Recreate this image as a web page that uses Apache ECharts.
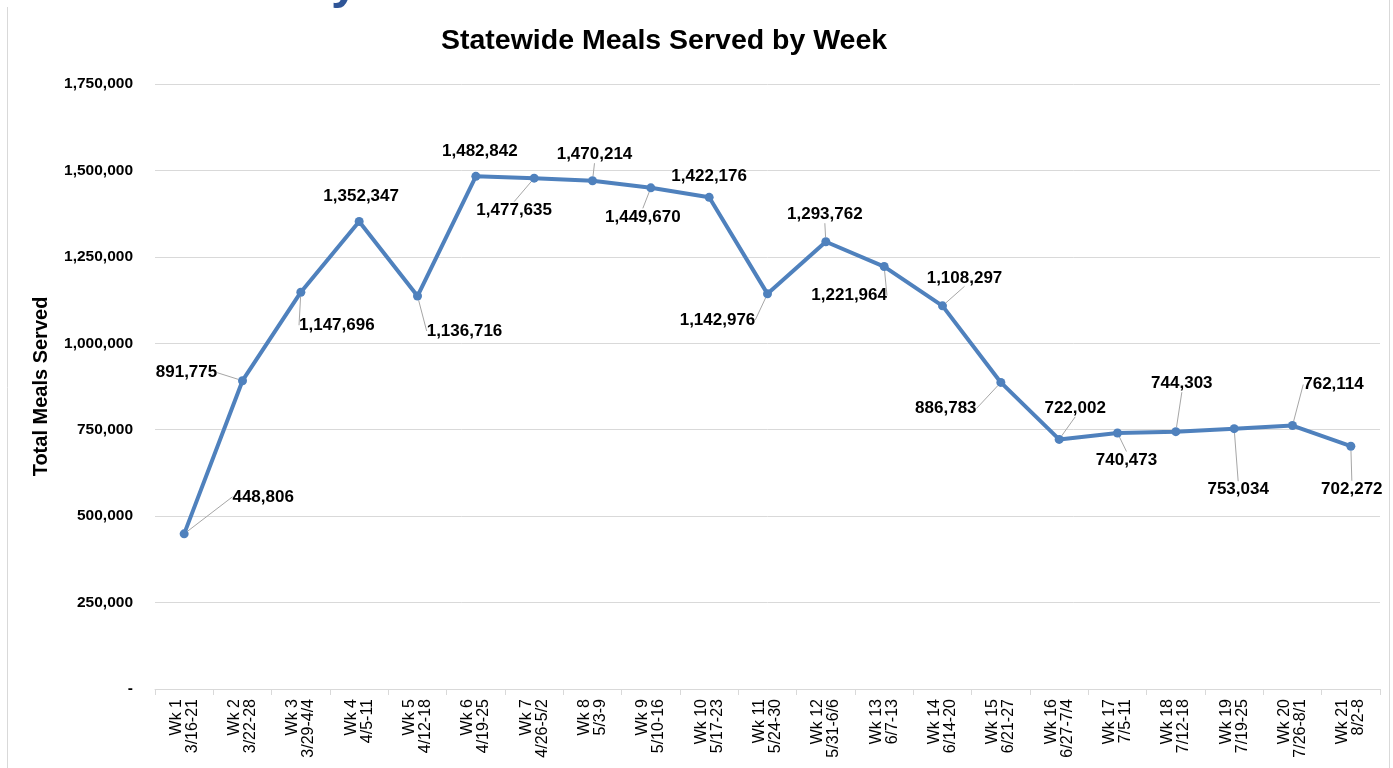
<!DOCTYPE html>
<html><head><meta charset="utf-8">
<script src="https://cdn.jsdelivr.net/npm/echarts@6/dist/echarts.min.js"></script>
<style>html,body{margin:0;padding:0;background:#fff}#c{width:1393px;height:768px}</style>
</head><body><div id="c"></div>
<script>
const weeks = ['Wk 1','Wk 2','Wk 3','Wk 4','Wk 5','Wk 6','Wk 7','Wk 8','Wk 9','Wk 10','Wk 11','Wk 12','Wk 13','Wk 14','Wk 15','Wk 16','Wk 17','Wk 18','Wk 19','Wk 20','Wk 21'];
const dates = ['3/16-21','3/22-28','3/29-4/4','4/5-11','4/12-18','4/19-25','4/26-5/2','5/3-9','5/10-16','5/17-23','5/24-30','5/31-6/6','6/7-13','6/14-20','6/21-27','6/27-7/4','7/5-11','7/12-18','7/19-25','7/26-8/1','8/2-8'];
const meals = [448806,891775,1147696,1352347,1136716,1482842,1477635,1470214,1449670,1422176,1142976,1293762,1221964,1108297,886783,722002,740473,744303,753034,762114,702272];
const yMin = 0, yMax = 1750000, yStep = 250000;

// label placement (style only)
const labelOffsets = [[79,-37],[-56,-8],[36,33],[2,-25],[47,35],[4,-25],[-20,32],[2,-26],[-8,29],[0,-21],[-50,26],[-1,-27],[-35,29],[22,-28],[-55,26],[16,-31],[9,27],[6,-48],[4,61],[41,-41],[1,43]];
const leader = [1,1,1,0,1,0,1,1,1,0,1,1,1,1,1,1,1,1,1,1,1];

const fmt = v => v === 0 ? '-' : v.toLocaleString('en-US');
const categories = weeks.map((w,i) => w + '\n' + dates[i]);
const FONT = 'Liberation Sans';

const chart = echarts.init(document.getElementById('c'));
chart.setOption({
  backgroundColor: '#fff',
  animation: false,
  title: {
    text: 'Statewide Meals Served by Week',
    left: 436, top: 22,
    textStyle: { fontFamily: FONT, fontSize: 28.5, fontWeight: 'bold', color: '#000' }
  },
  graphic: [
    { type: 'line', shape: { x1: 7.5, y1: 7, x2: 7.5, y2: 768 }, style: { stroke: '#d9d9d9', lineWidth: 1 } },
    { type: 'line', shape: { x1: 1389.5, y1: 0, x2: 1389.5, y2: 768 }, style: { stroke: '#d9d9d9', lineWidth: 1 } },
    { type: 'text', left: 331, top: -41, style: { text: 'y', font: 'bold 50px ' + FONT, fill: '#2f5597' } }
  ],
  grid: { left: 155, right: 13, top: 84, bottom: 79, containLabel: false },
  xAxis: {
    type: 'category',
    data: categories,
    boundaryGap: true,
    axisLine: { lineStyle: { color: '#d9d9d9', width: 1 } },
    axisTick: { show: true, length: 6, lineStyle: { color: '#d9d9d9' } },
    axisLabel: { rotate: 90, interval: 0, margin: 10, fontFamily: FONT, fontSize: 16, lineHeight: 16, color: '#000' },
    splitLine: { show: false }
  },
  yAxis: {
    type: 'value',
    min: yMin, max: yMax, interval: yStep,
    name: 'Total Meals Served',
    nameLocation: 'middle',
    nameGap: 104,
    nameRotate: 90,
    nameTextStyle: { fontFamily: FONT, fontSize: 20, fontWeight: 'bold', color: '#000' },
    axisLine: { show: false },
    axisTick: { show: false },
    axisLabel: { formatter: fmt, margin: 22, fontFamily: FONT, fontSize: 15.5, fontWeight: 'bold', color: '#000' },
    splitLine: { lineStyle: { color: '#d9d9d9', width: 1 } }
  },
  series: [{
    type: 'line',
    data: meals.map((v,i) => ({ value: v, labelLine: { show: !!leader[i] } })),
    symbol: 'circle',
    symbolSize: 9,
    lineStyle: { color: '#4f81bd', width: 4 },
    itemStyle: { color: '#4f81bd' },
    label: {
      show: true, position: 'inside',
      formatter: p => fmt(p.value),
      fontFamily: FONT, fontSize: 17, fontWeight: 'bold', color: '#000'
    },
    labelLine: { show: true, lineStyle: { color: '#a6a6a6', width: 1 } },
    labelLayout: p => ({ dx: labelOffsets[p.dataIndex][0], dy: labelOffsets[p.dataIndex][1] })
  }]
});
</script>
</body></html>
